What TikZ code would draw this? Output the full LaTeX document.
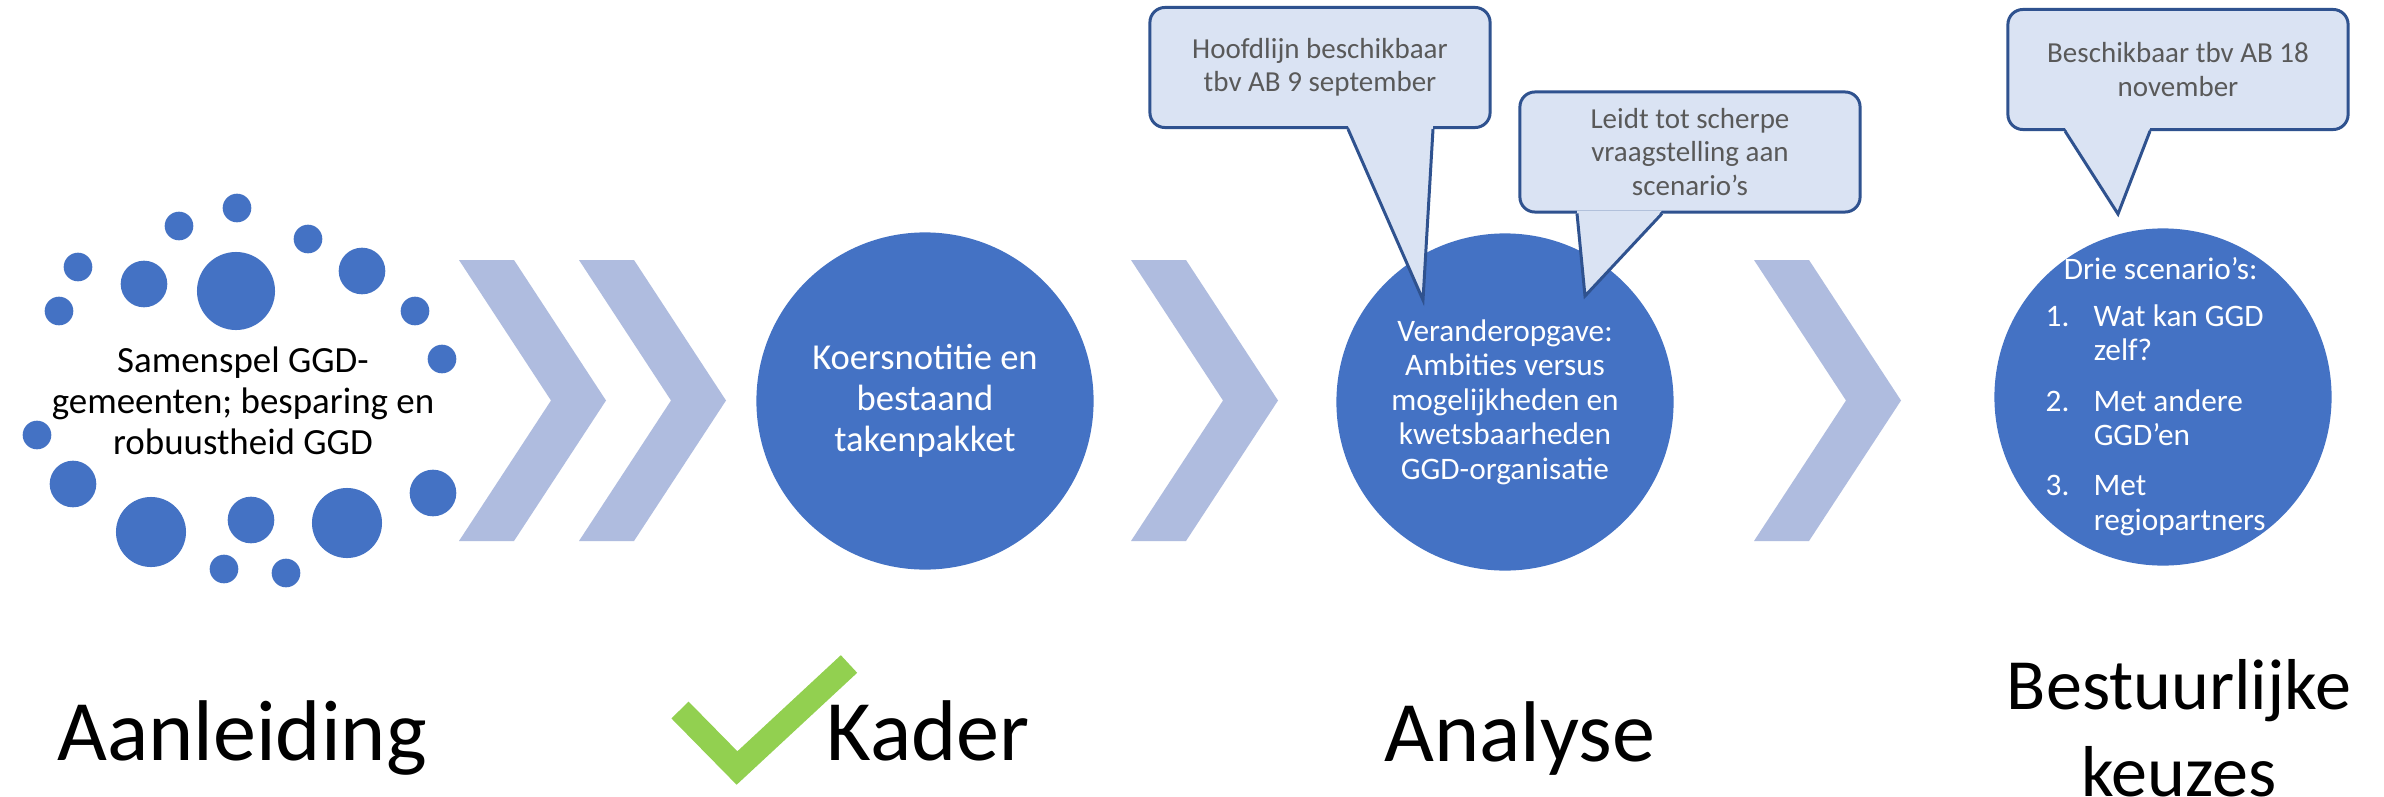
\documentclass[tikz,border=0pt]{standalone}
\usepackage{fontspec}
\setmainfont{Carlito}
\usepackage{tikz}
\usetikzlibrary{calc}

\definecolor{stageblue}{HTML}{4472C4}
\definecolor{chevfill}{HTML}{AFBCDF}
\definecolor{bubblefill}{HTML}{DAE3F3}
\definecolor{bubbleedge}{HTML}{2F528F}
\definecolor{bubbletext}{HTML}{595959}
\definecolor{checkgreen}{HTML}{92D050}

\begin{document}
\begin{tikzpicture}[x=0.01cm, y=-0.01cm,
    chevron/.style={fill=chevfill},
    blob/.style={fill=stageblue},
    stage/.style={circle, fill=stageblue, minimum size=3.37cm, inner sep=0pt, text=white, align=center},
    bubble/.style={rectangle, rounded corners=0.15cm, minimum width=3.4cm, minimum height=1.2cm, inner sep=0pt,
        fill=bubblefill, draw=bubbleedge, line width=0.85pt, text=bubbletext, align=center,
        font=\fontsize{8.25}{9.5}\selectfont},
    bubbleline/.style={draw=bubbleedge, line width=0.85pt},
    steplabel/.style={inner sep=0pt, font=\fontsize{24.5}{28}\selectfont}]
        \path[fill=white] (0,0) rectangle (2384,797);
        \useasboundingbox (0,0) rectangle (2384,797);

        % Chevrons
        \foreach \cx in {459, 579, 1131, 1754} {
            \fill[chevron] (\cx,260) -- ++(55,0) -- ++(92,140.5) -- ++(-92,140.5) -- ++(-55,0) -- ++(92,-140.5) -- cycle;
        }

        % Aanleiding: ring of dots
        \foreach \px/\py/\r in {237/208/0.143cm, 179/226/0.143cm, 308/239/0.143cm, 78/267/0.143cm,
                144/284/0.233cm, 236/291/0.39cm, 362/271/0.233cm, 59/311/0.143cm, 415/311/0.143cm,
                442/359/0.143cm, 37/435/0.143cm, 73/484/0.233cm, 433/493/0.233cm, 151/532/0.35cm,
                251/520/0.233cm, 347/523/0.35cm, 224/569/0.143cm, 286/573/0.143cm} {
            \fill[blob] (\px,\py) circle[radius=\r];
        }
        \node[align=center, font=\fontsize{10.5}{11.7}\selectfont] (samen) at (243,401)
            {Samenspel GGD-\\gemeenten; besparing en\\robuustheid GGD};

        % Stages
        \node[stage, font=\fontsize{10.4}{11.7}\selectfont] (koers) at (925,401)
            {Koersnotitie en\\bestaand\\takenpakket};
        \node[stage, font=\fontsize{8.9}{9.8}\selectfont] (verander) at (1505,402)
            {Veranderopgave:\\Ambities versus\\mogelijkheden en\\kwetsbaarheden\\GGD-organisatie};
        \node[stage] (drie) at (2163,397) {};
        \node[anchor=base west, inner sep=0pt, text=white, font=\fontsize{8.9}{9.8}\selectfont] (drielijst) at (2045,279)
            {\begin{tabular}[t]{@{}p{0.48cm}@{}l@{}}
                \multicolumn{2}{@{}c@{}}{\hspace{0.1cm}Drie scenario’s:}\\[3.7pt]
                1. & Wat kan GGD\\
                   & zelf?\\[4.5pt]
                2. & Met andere\\
                   & GGD’en\\[4.5pt]
                3. & Met\\
                   & regiopartners
            \end{tabular}};

        % Callouts
        \node[bubble] (hoofd) at (1320,67.5) {Hoofdlijn beschikbaar\\tbv AB 9 september};
        \coordinate (hoofdtip) at (1423,300);
        \fill[bubblefill] ($(hoofd.south)+(28,-3)$) -- (hoofdtip) -- ($(hoofd.south)+(113,-3)$) -- cycle;
        \draw[bubbleline] ($(hoofd.south)+(28,0)$) -- (hoofdtip) -- ($(hoofd.south)+(113,0)$);

        \node[bubble] (leidt) at (1690,152) {Leidt tot scherpe\\vraagstelling aan\\scenario’s};
        \coordinate (leidttip) at (1585,296);
        \fill[bubblefill] ($(leidt.south)+(-113,-3)$) -- (leidttip) -- ($(leidt.south)+(-28,-3)$) -- cycle;
        \draw[bubbleline] ($(leidt.south)+(-113,0)$) -- (leidttip) -- ($(leidt.south)+(-28,0)$);

        \node[bubble] (beschik) at (2178,69.5) {Beschikbaar tbv AB 18\\november};
        \coordinate (beschiktip) at (2118,214);
        \fill[bubblefill] ($(beschik.south)+(-113,-3)$) -- (beschiktip) -- ($(beschik.south)+(-28,-3)$) -- cycle;
        \draw[bubbleline] ($(beschik.south)+(-113,0)$) -- (beschiktip) -- ($(beschik.south)+(-28,0)$);

        % Labels
        \node[steplabel, anchor=base] (aanl) at (242,760) {Aanleiding};
        \node[steplabel, anchor=base] (kader) at (928,760) {Kader};
        \node[steplabel, anchor=base] (analyse) at (1520,761) {Analyse};
        \node[steplabel, anchor=base, font=\fontsize{20.5}{24.75}\selectfont] (bestuur) at (2179,709)
            {\begin{tabular}[t]{@{}c@{}}Bestuurlijke\\keuzes\end{tabular}};

        % Check mark
        \draw[checkgreen, line width=0.24cm] (680,710) -- (737,768) -- (849,664);
\end{tikzpicture}
\end{document}
